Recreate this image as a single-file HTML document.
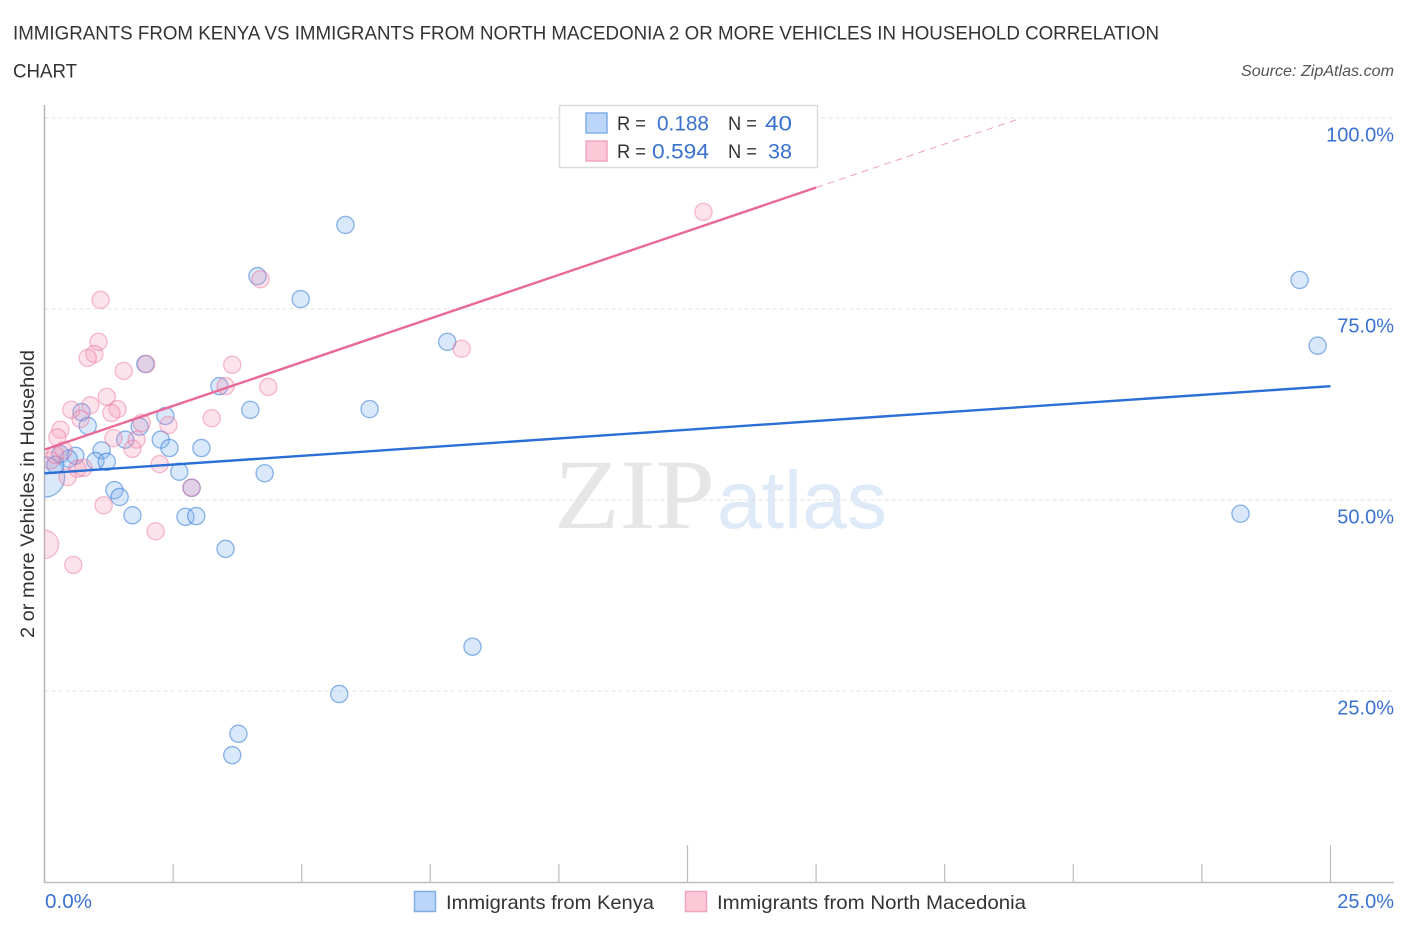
<!DOCTYPE html>
<html lang="en">
<head>
<meta charset="utf-8">
<title>Immigrants from Kenya vs Immigrants from North Macedonia chart</title>
<style>
html,body{margin:0;padding:0;background:#fff;width:1406px;height:930px;overflow:hidden}
svg{display:block;font-family:"Liberation Sans",sans-serif}
</style>
</head>
<body>
<svg id="chart" width="1406" height="930" viewBox="0 0 1406 930" xmlns="http://www.w3.org/2000/svg">
  <defs><clipPath id="plot-clip"><rect x="44.5" y="100" width="1350" height="782"/></clipPath></defs>
  <text x="13" y="39.500" font-size="19.500" fill="#333" textLength="1146" lengthAdjust="spacingAndGlyphs">IMMIGRANTS FROM KENYA VS IMMIGRANTS FROM NORTH MACEDONIA 2 OR MORE VEHICLES IN HOUSEHOLD CORRELATION</text>
  <text x="13" y="77.500" font-size="19.500" fill="#333" textLength="64" lengthAdjust="spacingAndGlyphs">CHART</text>
  <text x="1394" y="76" font-size="16" font-style="italic" fill="#555" text-anchor="end" textLength="153" lengthAdjust="spacingAndGlyphs">Source: ZipAtlas.com</text>

  <g>
    <text x="554" y="528" font-family="'Liberation Serif',serif" font-size="100" fill="#e6e6e6" textLength="161" lengthAdjust="spacingAndGlyphs">ZIP</text>
    <text x="717" y="528" font-size="82" fill="#dfeaf8" textLength="170" lengthAdjust="spacingAndGlyphs">atlas</text>
  </g>

  <g id="grid"></g>
  <g id="axes"></g>
  <g id="series-kenya" clip-path="url(#plot-clip)"></g>
  <g id="series-macedonia" clip-path="url(#plot-clip)"></g>
  <g id="trends"></g>
  <g id="labels"></g>

  <text transform="translate(34,494) rotate(-90)" font-size="19.500" fill="#333" text-anchor="middle" textLength="288" lengthAdjust="spacingAndGlyphs">2 or more Vehicles in Household</text>

  <g>
    <rect x="559.500" y="105.500" width="258" height="62" fill="#fff" stroke="#dcdcdc" stroke-width="1.500"/>
    <rect x="586" y="113" width="21" height="20" fill="#bbd6f8" stroke="#82aee6" stroke-width="1.500"/>
    <rect x="586" y="141" width="21" height="20" fill="#fcc8d8" stroke="#f0a5bd" stroke-width="1.500"/>
    <text x="617" y="130" font-size="19.500" fill="#333" textLength="29" lengthAdjust="spacingAndGlyphs">R =</text>
    <text x="657" y="130.500" font-size="21.500" fill="#3a72d0" textLength="52" lengthAdjust="spacingAndGlyphs">0.188</text>
    <text x="728" y="130" font-size="19.500" fill="#333" textLength="29" lengthAdjust="spacingAndGlyphs">N =</text>
    <text x="765" y="130.500" font-size="21.500" fill="#3a72d0" textLength="27" lengthAdjust="spacingAndGlyphs">40</text>
    <text x="617" y="158" font-size="19.500" fill="#333" textLength="29" lengthAdjust="spacingAndGlyphs">R =</text>
    <text x="652" y="158.500" font-size="21.500" fill="#3a72d0" textLength="57" lengthAdjust="spacingAndGlyphs">0.594</text>
    <text x="728" y="158" font-size="19.500" fill="#333" textLength="29" lengthAdjust="spacingAndGlyphs">N =</text>
    <text x="768" y="158.500" font-size="21.500" fill="#3a72d0" textLength="24" lengthAdjust="spacingAndGlyphs">38</text>
  </g>

  <g>
    <rect x="414.500" y="891.500" width="21" height="20" fill="#bbd6f8" stroke="#82aee6" stroke-width="1.500"/>
    <text x="446" y="909" font-size="19.500" fill="#333" textLength="208" lengthAdjust="spacingAndGlyphs">Immigrants from Kenya</text>
    <rect x="685.500" y="891.500" width="21" height="20" fill="#fcc8d8" stroke="#f0a5bd" stroke-width="1.500"/>
    <text x="717" y="909" font-size="19.500" fill="#333" textLength="309" lengthAdjust="spacingAndGlyphs">Immigrants from North Macedonia</text>
  </g>
</svg>
<script>
const yTickValues = [25, 50, 75, 100];
const yTickLabels = ["25.0%", "50.0%", "75.0%", "100.0%"];
const xTickValues = [2.5, 5, 7.5, 10, 12.5, 15, 17.5, 20, 22.5, 25];
const xMajorTicks = [12.5, 25];
const xTickLabels = ["0.0%", "25.0%"];

const kenyaX = [5.85,4.14,4.98,7.83,1.96,3.40,4.00,6.32,0.72,2.35,0.84,1.85,1.57,2.26,2.43,3.05,1.11,0.60,0.31,0.47,0.99,1.21,2.62,4.28,1.36,1.46,1.71,2.74,2.95,3.52,8.32,5.73,3.77,3.65,24.40,24.75,23.25,2.86,0.00,0.21];
const kenyaY = [86.0,79.3,76.3,70.7,67.8,64.9,61.8,61.9,61.5,61.0,59.7,59.6,57.9,57.9,56.8,56.8,56.5,55.8,56.0,55.4,55.1,55.0,53.7,53.5,51.3,50.4,48.0,47.8,47.9,43.6,30.8,24.6,19.4,16.6,78.8,70.2,48.2,51.6,53.0,54.6];
const kenyaWeight = [1,1,1,1,1,1,1,1,1,1,1,1,1,1,1,1,1,1,1,1,1,1,1,1,1,1,1,1,1,1,1,1,1,1,1,1,1,1,5.5,1];

const macedoniaX = [12.81,4.20,1.09,1.05,0.97,0.84,8.11,1.98,3.65,1.54,3.52,4.35,1.21,0.89,0.52,1.42,1.30,0.70,1.89,2.41,3.25,0.31,0.25,1.34,1.79,1.71,0.37,2.24,0.64,0.76,0.45,2.86,1.15,2.16,0.56,0.00,0.12,0.21];
const macedoniaY = [87.7,78.9,76.2,70.7,69.1,68.6,69.8,67.8,67.7,66.9,64.9,64.8,63.5,62.4,61.8,61.9,61.4,60.6,60.1,59.8,60.7,59.2,58.2,58.1,57.9,56.7,56.5,54.7,54.1,54.2,53.0,51.6,49.3,45.9,41.5,44.2,55.2,55.9];
const macedoniaWeight = [1,1,1,1,1,1,1,1,1,1,1,1,1,1,1,1,1,1,1,1,1,1,1,1,1,1,1,1,1,1,1,1,1,1,1,2.7,1,1];

const kenyaTrendX = [0, 25];
const kenyaTrendY = [53.5, 64.9];
const macedoniaTrendX = [0, 15];
const macedoniaTrendY = [56.6, 90.9];
const macedoniaForecastX = [15, 18.95];
const macedoniaForecastY = [90.9, 99.9];

const NS = 'http://www.w3.org/2000/svg';
const xScale = v => 44.5 + v * 51.44;
const yScale = v => 882 - v * 7.64;
const markerRadius = w => 8.6 * Math.sqrt(w);

function make(tag, parent, attrs) {
  const el = document.createElementNS(NS, tag);
  for (const k in attrs) el.setAttribute(k, attrs[k]);
  document.getElementById(parent).appendChild(el);
  return el;
}

yTickValues.forEach(v => {
  const el = make('line', 'grid', {x1: 44.5, x2: 1394, y1: yScale(v), y2: yScale(v), stroke: '#e2e2e2', 'stroke-width': 1, 'stroke-dasharray': '4 3'});
  
  
});

const yAxis = make('line', 'axes', {x1: 44.5, x2: 44.5, y1: 105, y2: 883, stroke: '#b5b5b5', 'stroke-width': 1.5});


const xAxis = make('line', 'axes', {x1: 44, x2: 1394, y1: 882.5, y2: 882.5, stroke: '#bdbdbd', 'stroke-width': 1.5});



xTickValues.forEach(v => {
  const top = xMajorTicks.includes(v) ? 845 : 864;
  const el = make('line', 'axes', {x1: xScale(v), x2: xScale(v), y1: top, y2: 882, stroke: '#bdbdbd', 'stroke-width': 1.2});
  
  
});

function drawSeries(parent, xs, ys, ws, fill, stroke, name) {
  xs.forEach((x, i) => {
    const el = make('circle', parent, {cx: xScale(x), cy: yScale(ys[i]), r: markerRadius(ws[i]), fill: fill, stroke: stroke, 'stroke-width': 1.3});
    
    
  });
}
drawSeries('series-kenya', kenyaX, kenyaY, kenyaWeight, 'rgba(130,180,240,0.3)', 'rgba(50,120,215,0.55)', 'kenya-point');
drawSeries('series-macedonia', macedoniaX, macedoniaY, macedoniaWeight, 'rgba(245,150,180,0.28)', 'rgba(232,110,150,0.45)', 'macedonia-point');

const kenyaLine = make('line', 'trends', {x1: xScale(kenyaTrendX[0]), y1: yScale(kenyaTrendY[0]), x2: xScale(kenyaTrendX[1]), y2: yScale(kenyaTrendY[1]), stroke: '#2a6fd6', 'stroke-width': 2.4});


const macLine = make('line', 'trends', {x1: xScale(macedoniaTrendX[0]), y1: yScale(macedoniaTrendY[0]), x2: xScale(macedoniaTrendX[1]), y2: yScale(macedoniaTrendY[1]), stroke: '#e8699a', 'stroke-width': 2.4});


const macDash = make('line', 'trends', {x1: xScale(macedoniaForecastX[0]), y1: yScale(macedoniaForecastY[0]), x2: xScale(macedoniaForecastX[1]), y2: yScale(macedoniaForecastY[1]), stroke: '#eea0bc', 'stroke-width': 1, 'stroke-dasharray': '7 5'});



yTickValues.forEach((v, i) => {
  const el = make('text', 'labels', {x: 1394, y: yScale(v) + 23.5, 'text-anchor': 'end', 'font-size': 20, fill: '#3a72d0'});
  
  
  el.textContent = yTickLabels[i];
});
const xLabelLeft = make('text', 'labels', {x: 45, y: 908, 'font-size': 20, fill: '#3a72d0', textLength: 47, lengthAdjust: 'spacingAndGlyphs'});


xLabelLeft.textContent = xTickLabels[0];
const xLabelRight = make('text', 'labels', {x: 1394, y: 908, 'text-anchor': 'end', 'font-size': 20, fill: '#3a72d0'});


xLabelRight.textContent = xTickLabels[1];
</script>
</body>
</html>
